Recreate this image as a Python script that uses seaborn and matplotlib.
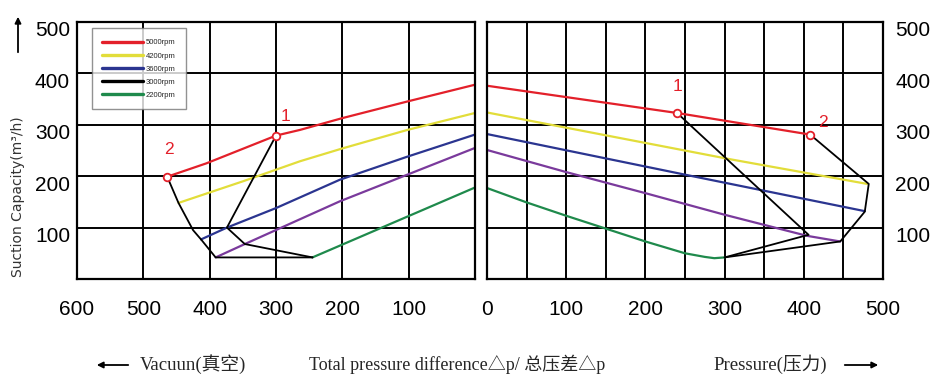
import matplotlib
matplotlib.use("Agg")
import matplotlib.pyplot as plt
import matplotlib.transforms as mtransforms
from matplotlib.lines import Line2D
import seaborn as sns

# ---- data (x = pressure difference, y = m3/h) ----
# vacuum side (left panel, x axis runs 600 -> 0)
vac_red_x = [464, 405, 300, 264, 200, 100, 0]
vac_red_y = [199, 225, 279, 290, 313, 346, 378]
vac_yellow_x = [447, 350, 264, 200, 102, 0]
vac_yellow_y = [148, 190, 229, 254, 290, 323]
vac_blue_x = [413, 374, 300, 204, 102, 0]
vac_blue_y = [77, 100, 138, 193, 238, 281]
vac_purple_x = [391, 347, 204, 102, 0]
vac_purple_y = [42, 68, 151, 203, 255]
vac_green_x = [245, 0]
vac_green_y = [42, 178]
vac_limit1_x = [300, 374, 347, 245]
vac_limit1_y = [279, 100, 68, 42]
vac_limit2_x = [464, 447, 425, 413, 391, 245]
vac_limit2_y = [199, 148, 95, 77, 42, 42]
vac_points_x = [300, 464]
vac_points_y = [279, 199]

# pressure side (right panel, x axis 0 -> 500)
pr_red_x = [0, 240, 408]
pr_red_y = [376, 323, 281]
pr_yellow_x = [0, 307, 480]
pr_yellow_y = [324, 233, 185]
pr_blue_x = [0, 250, 477]
pr_blue_y = [282, 203, 132]
pr_purple_x = [0, 100, 200, 300, 404, 446]
pr_purple_y = [251, 208, 167, 125, 84, 73]
pr_green_x = [0, 50, 100, 150, 200, 250, 275, 287, 300]
pr_green_y = [177, 149, 123, 98, 73, 50, 43, 40.5, 42]
pr_limit1_x = [240, 406, 300]
pr_limit1_y = [323, 86, 42]
pr_limit2_x = [408, 482, 477, 446, 300]
pr_limit2_y = [281, 185, 131, 73, 42]
pr_points_x = [240, 408]
pr_points_y = [323, 281]

point_labels = ["1", "2"]
legend_labels = ["5000rpm", "4200rpm", "3600rpm", "3000rpm", "2200rpm"]
y_ticks = [100, 200, 300, 400, 500]
vac_ticks = [600, 500, 400, 300, 200, 100]
pr_ticks = [0, 100, 200, 300, 400, 500]

RED = "#e3202a"
YELLOW = "#e2dd3a"
BLUE = "#2b3590"
PURPLE = "#7a3a9c"
GREEN = "#1f8a4c"

sns.set_theme(style="white")
plt.rcParams["font.family"] = ["Liberation Sans", "DejaVu Sans"]

fig = plt.figure(figsize=(9.37, 3.79), dpi=100)
ax_v = fig.add_axes([77 / 937, 1 - 279 / 379, 398 / 937, 257 / 379])
ax_p = fig.add_axes([487 / 937, 1 - 279 / 379, 396 / 937, 257 / 379])


def curve(ax, x, y, color, lw=1.6):
    sns.lineplot(x=x, y=y, ax=ax, color=color, lw=lw, sort=False, estimator=None)


# left panel
curve(ax_v, vac_red_x, vac_red_y, RED)
curve(ax_v, vac_yellow_x, vac_yellow_y, YELLOW)
curve(ax_v, vac_blue_x, vac_blue_y, BLUE)
curve(ax_v, vac_purple_x, vac_purple_y, PURPLE)
curve(ax_v, vac_green_x, vac_green_y, GREEN)
curve(ax_v, vac_limit1_x, vac_limit1_y, "black", 1.3)
curve(ax_v, vac_limit2_x, vac_limit2_y, "black", 1.3)

# right panel
curve(ax_p, pr_red_x, pr_red_y, RED)
curve(ax_p, pr_yellow_x, pr_yellow_y, YELLOW)
curve(ax_p, pr_blue_x, pr_blue_y, BLUE)
curve(ax_p, pr_purple_x, pr_purple_y, PURPLE)
curve(ax_p, pr_green_x, pr_green_y, GREEN)
curve(ax_p, pr_limit1_x, pr_limit1_y, "black", 1.3)
curve(ax_p, pr_limit2_x, pr_limit2_y, "black", 1.3)

# operating points 1 / 2
for ax, px, py, offs in [
    (ax_v, vac_points_x, vac_points_y, [(7, 8), (1, 14)]),
    (ax_p, pr_points_x, pr_points_y, [(0, 14), (9, 3)]),
]:
    sns.scatterplot(x=px, y=py, ax=ax, s=30, facecolor="white",
                    edgecolor=RED, linewidth=1.3, zorder=5)
    for lab, x, y, off in zip(point_labels, px, py, offs):
        ax.annotate(lab, (x, y), xytext=off, textcoords="offset points",
                    ha="center", va="bottom", color=RED, fontsize=12.5)

# axes styling
ax_v.set_xlim(600, 0)
ax_p.set_xlim(0, 500)
for ax in (ax_v, ax_p):
    ax.set_ylim(0, 500)
    ax.set_yticks(y_ticks)
    ax.set_xlabel("")
    ax.set_ylabel("")
    ax.grid(True, which="both", color="black", lw=1.4)
    ax.set_axisbelow(True)
    for sp in ax.spines.values():
        sp.set_color("black")
        sp.set_linewidth(1.6)
    ax.tick_params(length=0, labelsize=15, colors="black")

ax_v.set_xticks(vac_ticks)
ax_v.set_xticklabels([str(t) for t in vac_ticks])
ax_p.set_xticks(pr_ticks)
ax_p.set_xticklabels([str(t) for t in pr_ticks])
ax_p.set_xticks([50, 150, 250, 350, 450], minor=True)
ax_p.tick_params(which="minor", length=0)
ax_p.yaxis.tick_right()
ax_v.tick_params(axis="x", pad=15)
ax_p.tick_params(axis="x", pad=15)
ax_v.tick_params(axis="y", pad=5)
ax_p.tick_params(axis="y", pad=9)

# y tick labels sit a bit below the grid lines in the reference
shift = mtransforms.ScaledTranslation(0, -7 / 100, fig.dpi_scale_trans)
for ax in (ax_v, ax_p):
    for lab in ax.get_yticklabels():
        lab.set_transform(lab.get_transform() + shift)

# legend (3000rpm shown in black as in the original)
handles = [Line2D([], [], color=c, lw=2.4) for c in [RED, YELLOW, BLUE, "black", GREEN]]
leg = ax_v.legend(handles, legend_labels, loc="upper left",
                  bbox_to_anchor=(0.037, 0.975), fontsize=5.5, frameon=True,
                  fancybox=False, edgecolor="#777777", handlelength=5.3,
                  handletextpad=0.4, labelspacing=0.75, borderpad=1.4,
                  borderaxespad=0)
leg.get_frame().set_linewidth(1.0)

# y label and arrow
fig.text(18 / 937, 1 - 197 / 379, "Suction Capacity(m³/h)", rotation=90,
         ha="center", va="center", fontsize=10, color="#333333",
         family=["DejaVu Sans"])
fig.add_artist(matplotlib.patches.FancyArrowPatch(
    (18 / 937, 1 - 55 / 379), (18 / 937, 1 - 14 / 379), transform=fig.transFigure,
    arrowstyle="-|>", mutation_scale=9, lw=1.3, color="black"))

# bottom captions
cap_font = ["Liberation Serif", "Noto Sans CJK SC", "DejaVu Sans"]
fig.text(140 / 937, 1 - 364 / 379, "Vacuun(真空)", ha="left", va="center",
         fontsize=13.5, family=cap_font)
fig.text(457 / 937, 1 - 364 / 379, "Total pressure difference△p/ 总压差△p",
         ha="center", va="center", fontsize=13, family=cap_font)
fig.text(713 / 937, 1 - 364 / 379, "Pressure(压力)", ha="left", va="center",
         fontsize=13.5, family=cap_font)
fig.add_artist(matplotlib.patches.FancyArrowPatch(
    (131 / 937, 1 - 365 / 379), (94 / 937, 1 - 365 / 379), transform=fig.transFigure,
    arrowstyle="-|>", mutation_scale=9, lw=1.3, color="black"))
fig.add_artist(matplotlib.patches.FancyArrowPatch(
    (842 / 937, 1 - 365 / 379), (881 / 937, 1 - 365 / 379), transform=fig.transFigure,
    arrowstyle="-|>", mutation_scale=9, lw=1.3, color="black"))

fig.savefig("out.png", dpi=100)
